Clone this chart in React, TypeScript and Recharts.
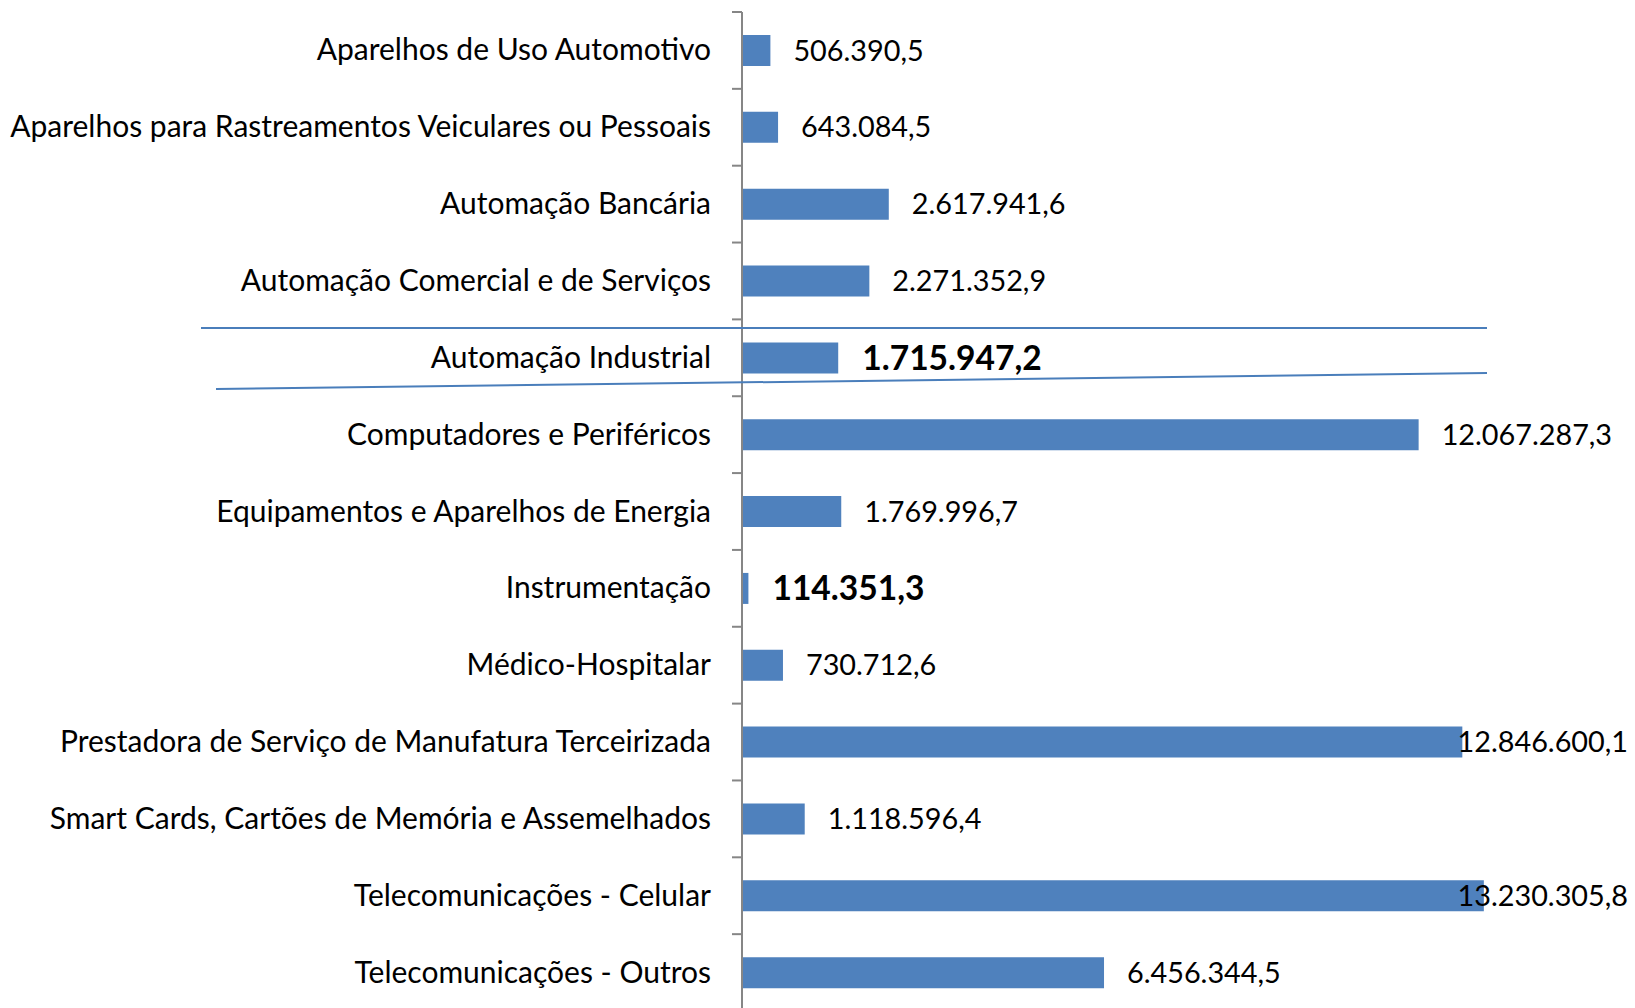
import React from 'react';
import { BarChart, Bar, XAxis, YAxis, LabelList } from 'recharts';

const categories = [
  'Aparelhos de Uso Automotivo',
  'Aparelhos para Rastreamentos Veiculares ou Pessoais',
  'Automação Bancária',
  'Automação Comercial e de Serviços',
  'Automação Industrial',
  'Computadores e Periféricos',
  'Equipamentos e Aparelhos de Energia',
  'Instrumentação',
  'Médico-Hospitalar',
  'Prestadora de Serviço de Manufatura Terceirizada',
  'Smart Cards, Cartões de Memória e Assemelhados',
  'Telecomunicações - Celular',
  'Telecomunicações - Outros',
];

const values = [
  506390.5, 643084.5, 2617941.6, 2271352.9, 1715947.2, 12067287.3, 1769996.7,
  114351.3, 730712.6, 12846600.1, 1118596.4, 13230305.8, 6456344.5,
];

const highlighted = ['Automação Industrial', 'Instrumentação'];

const xDomain = [0, 14000000];

const data = categories.map((name, i) => ({
  name,
  value: values[i],
  bold: highlighted.includes(name),
}));

const FONT = 'Lato, "Open Sans", sans-serif';
const CAT_SIZE = 30;
const VAL_SIZE = 28.8;
const BOLD_SIZE = 33.6;
const BAR_COLOR = '#4F81BD';
const AXIS_COLOR = '#868686';

const fmt = (v: number) =>
  v.toLocaleString('pt-BR', { minimumFractionDigits: 1, maximumFractionDigits: 1 });

let ctx: CanvasRenderingContext2D | null = null;
const measure = (text: string, font: string) => {
  if (!ctx) ctx = document.createElement('canvas').getContext('2d');
  if (!ctx) return text.length * 15;
  ctx.font = font;
  return ctx.measureText(text).width;
};

const CHART_W = 1635;
const CHART_H = 1012;
const MARGIN = { top: 12, right: 108, bottom: 1, left: 0 };
const Y_AXIS_W = 742;
const LABEL_LIMIT = CHART_W - 7;
const BAND = (CHART_H - MARGIN.top - MARGIN.bottom) / categories.length;

const ValueLabel = (props: any) => {
  const { x, y, width, height, value, index } = props;
  const bold = data[index]?.bold;
  const size = bold ? BOLD_SIZE : VAL_SIZE;
  const text = fmt(value);
  const w = measure(text, `${bold ? 'bold ' : ''}${size}px Lato`);
  let sx = x + width + (bold ? 24 : 23);
  if (sx + w > LABEL_LIMIT) sx = LABEL_LIMIT - w;
  return (
    <text
      x={sx}
      y={y + height / 2 - 1}
      dominantBaseline="central"
      textAnchor="start"
      fontFamily={FONT}
      fontSize={size}
      fontWeight={bold ? 700 : 400}
      fill="#000"
    >
      {text}
    </text>
  );
};

const CatTick = (props: any) => {
  const { x, y, payload } = props;
  return (
    <g>
      <line x1={x - 10} x2={x} y1={y - BAND / 2} y2={y - BAND / 2} stroke={AXIS_COLOR} strokeWidth={2} />
      <text
        x={x - 31}
        y={y - 2}
        textAnchor="end"
        dominantBaseline="central"
        fontFamily={FONT}
        fontSize={CAT_SIZE}
        fill="#000"
      >
        {payload.value}
      </text>
    </g>
  );
};

export default function App() {
  return (
    <div style={{ position: 'fixed', left: 0, top: 0, width: 1635, height: 1008, overflow: 'hidden', background: '#fff' }}>
      <BarChart
        width={CHART_W}
        height={CHART_H}
        data={data}
        layout="vertical"
        margin={MARGIN}
      >
        <XAxis type="number" domain={xDomain} hide />
        <YAxis
          type="category"
          dataKey="name"
          width={Y_AXIS_W}
          interval={0}
          tickLine={false}
          tickSize={0}
          tickMargin={0}
          axisLine={{ stroke: AXIS_COLOR, strokeWidth: 2 }}
          tick={<CatTick />}
        />
        <Bar dataKey="value" fill={BAR_COLOR} barSize={31} isAnimationActive={false}>
          <LabelList dataKey="value" content={<ValueLabel />} />
        </Bar>
      </BarChart>
      <svg
        width={1635}
        height={1008}
        style={{ position: 'absolute', left: 0, top: 0, pointerEvents: 'none' }}
      >
        <line x1={201} y1={328} x2={1487} y2={328} stroke="#4A7EBB" strokeWidth={2} />
        <line x1={216} y1={389} x2={1487} y2={373} stroke="#4A7EBB" strokeWidth={2} />
      </svg>
    </div>
  );
}
